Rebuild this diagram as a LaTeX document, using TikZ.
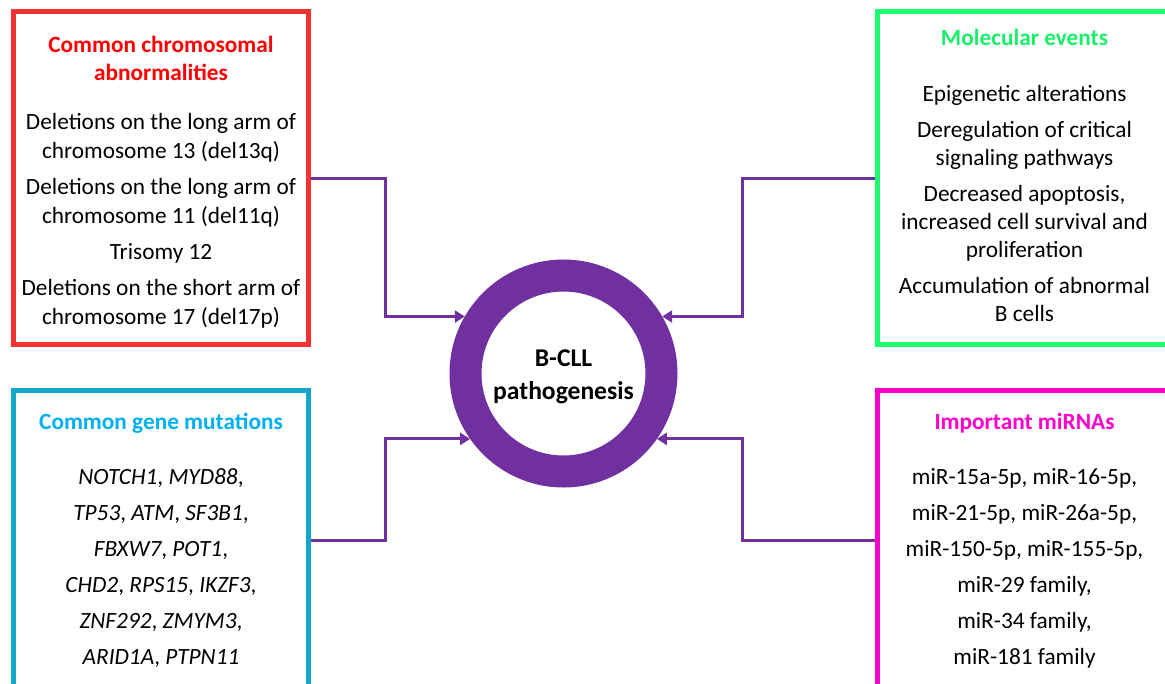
\documentclass[tikz,border=0pt]{standalone}
\usepackage{fontspec}
\setmainfont{Carlito}
\usetikzlibrary{arrows.meta, calc}

\definecolor{cllpurple}{HTML}{7030A0}
\definecolor{chromred}{HTML}{F23333}
\definecolor{chromtitle}{HTML}{FF0000}
\definecolor{molgreen}{HTML}{1EFF6E}
\definecolor{moltitle}{HTML}{19F06A}
\definecolor{geneblue}{HTML}{14A5CD}
\definecolor{genetitle}{HTML}{00B0F0}
\definecolor{mirpink}{HTML}{FF00CC}

\tikzset{
  groupbox/.style={draw=#1, line width=5pt, minimum width=295pt, inner sep=0pt},
  headline/.style={font=\fontsize{23.3}{28}\selectfont\bfseries, text=#1, align=center},
  bodytext/.style={font=\fontsize{23.3}{29}\selectfont, align=center},
  link/.style={draw=cllpurple, line width=3pt, -{Triangle[length=10pt,width=12pt]}},
}

\begin{document}
\begin{tikzpicture}[x=1pt,y=-1pt]
    \useasboundingbox (0,0) rectangle (1165,683);
    \clip (0,0) rectangle (1165,683);
    \def \bendShift {178.5}
    % Central ring
    \node[circle, draw=cllpurple, line width=32pt, minimum size=196pt, inner sep=0pt, align=center,
          font=\fontsize{25.6}{33}\selectfont\bfseries] (core) at (563.5,373.5) {};
    \node[align=center, font=\fontsize{25.6}{33}\selectfont\bfseries] (coretext) at (563.5,377) {B-CLL\\pathogenesis};
    % Four group boxes
    \node[groupbox=chromred, minimum height=333pt] (chrom) at (161,178) {};
    \node[groupbox=molgreen, minimum height=333pt] (molec) at (1024.5,178) {};
    \node[groupbox=geneblue, minimum height=300pt] (genes) at (161,540) {};
    \node[groupbox=mirpink, minimum height=300pt] (mirna) at (1024.5,540) {};
    % Box titles
    \node[headline=chromtitle] (chromhead) at (161,58) {Common chromosomal\\abnormalities};
    \node[headline=moltitle] (molechead) at (1024.5,37) {Molecular events};
    \node[headline=genetitle] (geneshead) at (161,423) {Common gene mutations};
    \node[headline=mirpink] (mirnahead) at (1024.5,423) {Important miRNAs};
    % Box contents
    \node[bodytext] (chrombody) at (161,221) {Deletions on the long arm of\\chromosome 13 (del13q)\\[7pt]
        Deletions on the long arm of\\chromosome 11 (del11q)\\[7pt]
        Trisomy 12\\[7pt]
        Deletions on the short arm of\\chromosome 17 (del17p)};
    \node[bodytext, font=\fontsize{23.3}{28}\selectfont] (molecbody) at (1024.5,203) {Epigenetic alterations\\[8pt]
        Deregulation of critical\\signaling pathways\\[8pt]
        Decreased apoptosis,\\increased cell survival and\\proliferation\\[8pt]
        Accumulation of abnormal\\B cells};
    \node[bodytext] (genesbody) at (161,568) {\textit{NOTCH1}, \textit{MYD88},\\[7pt]
        \textit{TP53}, \textit{ATM}, \textit{SF3B1},\\[7pt]
        \textit{FBXW7}, \textit{POT1},\\[7pt]
        \textit{CHD2}, \textit{RPS15}, \textit{IKZF3},\\[7pt]
        \textit{ZNF292}, \textit{ZMYM3},\\[7pt]
        \textit{ARID1A}, \textit{PTPN11}};
    \node[bodytext] (mirnabody) at (1024.5,568) {miR-15a-5p, miR-16-5p,\\[7pt]
        miR-21-5p, miR-26a-5p,\\[7pt]
        miR-150-5p, miR-155-5p,\\[7pt]
        miR-29 family,\\[7pt]
        miR-34 family,\\[7pt]
        miR-181 family};
    % Connectors
    \coordinate (leftbend) at ($(core)+(-\bendShift,0)$);
    \coordinate (rightbend) at ($(core)+(\bendShift,0)$);
    \draw[link] (chrom.east) -| (leftbend |- core.150) -- (core.150);
    \draw[link] (molec.west) -| (rightbend |- core.30) -- (core.30);
    \draw[link] (genes.east) -| (leftbend |- core.215) -- (core.215);
    \draw[link] (mirna.west) -| (rightbend |- core.325) -- (core.325);
\end{tikzpicture}
\end{document}
